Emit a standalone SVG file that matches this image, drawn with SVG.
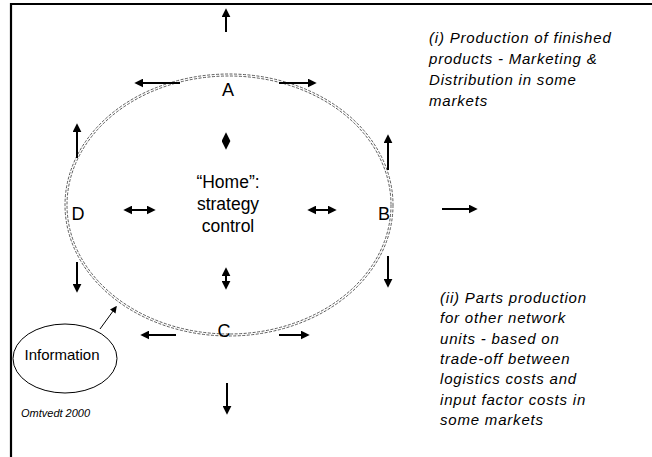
<svg xmlns="http://www.w3.org/2000/svg" width="652" height="457" viewBox="0 0 652 457">
<style>
.arr{stroke:#000;stroke-width:2;fill:none;marker-end:url(#ah)}
.dbl{stroke:#000;stroke-width:2;fill:none;marker-end:url(#ah);marker-start:url(#ah)}
.lbl{font-family:"Liberation Sans",Arial,sans-serif;fill:#000}
.it{font-family:"Liberation Sans",Arial,sans-serif;font-style:italic;fill:#000;font-size:15px;letter-spacing:0.8px}
.ring{fill:none;stroke:#333;stroke-width:0.8;stroke-dasharray:3 1.5}
</style>
<defs>
<marker id="ah" viewBox="0 0 10 10" refX="7" refY="5" markerWidth="9" markerHeight="9" markerUnits="userSpaceOnUse" orient="auto-start-reverse">
<path d="M0,0 L10,5 L0,10 z" fill="#000"/>
</marker>
<marker id="sh" viewBox="0 0 10 10" refX="8" refY="5" markerWidth="7" markerHeight="7" markerUnits="userSpaceOnUse" orient="auto">
<path d="M0,0 L10,5 L0,10 z" fill="#000"/>
</marker>
</defs>
<rect width="652" height="457" fill="#fff"/>
<path d="M11,457 V4 H652" fill="none" stroke="#000" stroke-width="2.2"/>

<g id="home">
<ellipse class="ring" cx="229" cy="205" rx="164" ry="131"/>
<ellipse class="ring" cx="229" cy="205" rx="162" ry="129"/>
<text class="lbl" font-size="17.5" text-anchor="middle" x="228" y="188">“Home”:</text>
<text class="lbl" font-size="17.5" text-anchor="middle" x="228" y="210">strategy</text>
<text class="lbl" font-size="17.5" text-anchor="middle" x="228" y="232">control</text>
</g>
<g id="nodeA"><text class="lbl" font-size="18" text-anchor="middle" x="228" y="96">A</text></g>
<g id="nodeB"><text class="lbl" font-size="18" text-anchor="middle" x="384" y="220">B</text></g>
<g id="nodeC"><text class="lbl" font-size="18" text-anchor="middle" x="224" y="337">C</text></g>
<g id="nodeD"><text class="lbl" font-size="18" text-anchor="middle" x="78" y="220">D</text></g>
<g id="information">
<ellipse cx="65" cy="358.5" rx="52" ry="34.5" fill="none" stroke="#000" stroke-width="1"/>
<text class="lbl" font-size="15" text-anchor="middle" x="62" y="360">Information</text>
</g>
<g id="note-i">
<text class="it" x="429" y="43">(i) Production of finished</text>
<text class="it" x="429" y="64">products - Marketing &amp;</text>
<text class="it" x="429" y="85">Distribution in some</text>
<text class="it" x="429" y="106">markets</text>
</g>
<g id="note-ii">
<text class="it" x="440" y="303">(ii) Parts production</text>
<text class="it" x="440" y="323">for other network</text>
<text class="it" x="440" y="344">units - based on</text>
<text class="it" x="440" y="364">trade-off between</text>
<text class="it" x="440" y="384">logistics costs and</text>
<text class="it" x="440" y="405">input factor costs in</text>
<text class="it" x="440" y="425">some markets</text>
</g>
<g id="credit"><text class="lbl" font-style="italic" font-size="11" x="21" y="417">Omtvedt 2000</text></g>

<g id="connectors">
<line class="arr" x1="226" y1="32" x2="226" y2="11"/>
<line class="arr" x1="180" y1="83" x2="137" y2="83"/>
<line class="arr" x1="279" y1="83" x2="314" y2="83"/>
<line class="dbl" x1="226" y1="135" x2="226" y2="147"/>
<line class="dbl" x1="226" y1="270" x2="226" y2="287"/>
<line class="dbl" x1="126" y1="210" x2="153" y2="210"/>
<line class="dbl" x1="310" y1="210" x2="334" y2="210"/>
<line class="arr" x1="442" y1="209" x2="475" y2="209"/>
<line class="arr" x1="77" y1="158" x2="77" y2="126"/>
<line class="arr" x1="77" y1="262" x2="77" y2="290"/>
<line class="arr" x1="388" y1="170" x2="388" y2="137"/>
<line class="arr" x1="388" y1="256" x2="388" y2="285"/>
<line class="arr" x1="176" y1="335" x2="143" y2="335"/>
<line class="arr" x1="279" y1="335" x2="307" y2="335"/>
<line class="arr" x1="227" y1="383" x2="227" y2="412"/>
<line x1="100" y1="329" x2="116" y2="307" stroke="#000" stroke-width="1" marker-end="url(#sh)"/>
</g>
</svg>
